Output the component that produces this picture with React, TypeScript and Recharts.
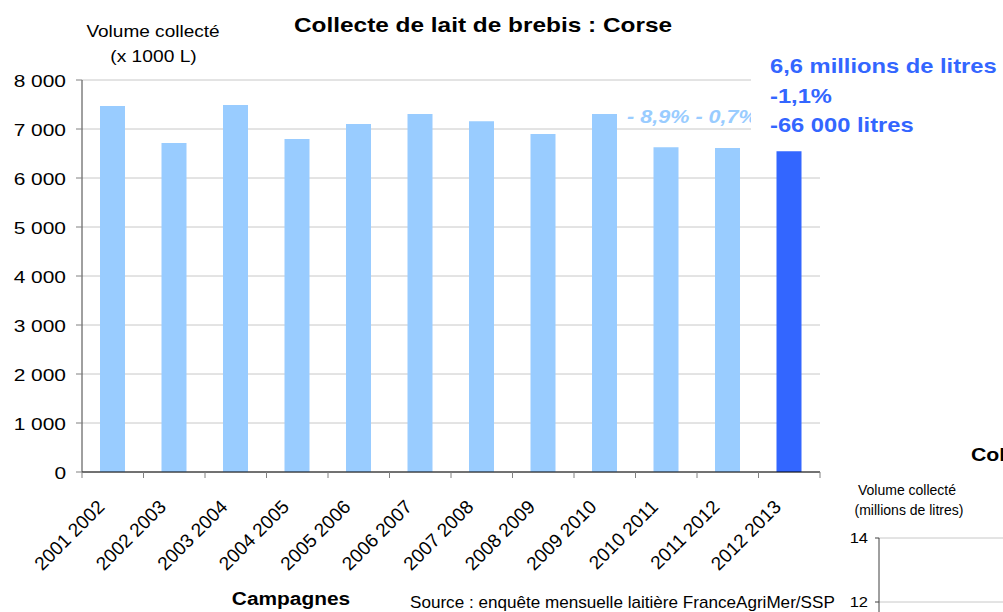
import { BarChart, Bar, Cell, XAxis, YAxis, CartesianGrid } from "recharts";

const campagnes = [
  "2001 2002", "2002 2003", "2003 2004", "2004 2005", "2005 2006", "2006 2007",
  "2007 2008", "2008 2009", "2009 2010", "2010 2011", "2011 2012", "2012 2013",
];
const volumes = [7470, 6715, 7490, 6795, 7100, 7305, 7160, 6900, 7305, 6630, 6610, 6545];
const yTicks = [0, 1000, 2000, 3000, 4000, 5000, 6000, 7000, 8000];
const annotation = ["6,6 millions de litres", "-1,1%", "-66 000 litres"];
const variations = "- 8,9% - 0,7%";
// second chart is cut off by the page: only the top of its axis shows
const secondTicks = [12, 14];

const data = campagnes.map((campagne, i) => ({ campagne, volume: volumes[i] }));
const secondData = campagnes.map((campagne) => ({ campagne }));

const FONT = '"Liberation Sans", Arial, sans-serif';
const W = 1003;
const H = 612;
const M_RIGHT = 183;
const Y_AXIS_W = 82;
const X_AXIS_H = 140;
const PLOT_BOTTOM = H - X_AXIS_H;
const BAND = (W - M_RIGHT - Y_AXIS_W) / campagnes.length;

const fmt = (v: number) => String(v).replace(/\B(?=(\d{3})+(?!\d))/g, " ");

const YTick = ({ x, y, payload }: any) => (
  <text
    transform={`translate(${x},${y}) scale(1.23,1)`}
    textAnchor="end"
    dy={7}
    fontSize={17}
    fontFamily={FONT}
    fill="#000"
  >
    {fmt(payload.value)}
  </text>
);

const XTick = ({ x, payload, index }: any) => {
  const half = BAND / 2;
  return (
    <g>
      <line x1={x - half} x2={x - half} y1={PLOT_BOTTOM} y2={PLOT_BOTTOM + 6} stroke="#808080" />
      {index === campagnes.length - 1 && (
        <line x1={x + half} x2={x + half} y1={PLOT_BOTTOM} y2={PLOT_BOTTOM + 6} stroke="#808080" />
      )}
      <text
        transform={`translate(${x - 7},${PLOT_BOTTOM + 36}) rotate(-45)`}
        textAnchor="end"
        fontSize={19}
        fontFamily={FONT}
        fill="#000"
      >
        {payload.value}
      </text>
    </g>
  );
};

const SmallTick = ({ x, y, payload }: any) => (
  <text
    transform={`translate(${x},${y}) scale(1.1,1)`}
    dy={5}
    textAnchor="end"
    fontSize={15}
    fontFamily={FONT}
    fill="#000"
  >
    {payload.value}
  </text>
);

const T = ({ x, y, sx = 1, anchor = "start", size, bold, italic, fill = "#000", children }: any) => (
  <text
    transform={`translate(${x},${y}) scale(${sx},1)`}
    textAnchor={anchor}
    fontSize={size}
    fontWeight={bold ? "bold" : "normal"}
    fontStyle={italic ? "italic" : "normal"}
    fontFamily={FONT}
    fill={fill}
  >
    {children}
  </text>
);

export default function App() {
  return (
    <div style={{ position: "absolute", left: 0, top: 0, width: W, height: H, overflow: "hidden", background: "#fff" }}>
      <div style={{ position: "absolute", left: 0, top: 0 }}>
        <BarChart width={W} height={H} data={data} margin={{ top: 80, right: M_RIGHT, bottom: 0, left: 0 }} barSize={25}>
          <CartesianGrid vertical={false} stroke="#c8c8c8" />
          <XAxis
            dataKey="campagne"
            height={X_AXIS_H}
            interval={0}
            tickLine={false}
            axisLine={{ stroke: "#000" }}
            tick={<XTick />}
          />
          <YAxis
            width={Y_AXIS_W}
            domain={[0, 8000]}
            ticks={yTicks}
            interval={0}
            tickSize={6}
            tickMargin={10}
            tickLine={{ stroke: "#808080" }}
            axisLine={{ stroke: "#404040" }}
            tick={<YTick />}
          />
          <Bar dataKey="volume" isAnimationActive={false}>
            {data.map((d, i) => (
              <Cell key={d.campagne} fill={i === data.length - 1 ? "#3366FF" : "#99CCFF"} />
            ))}
          </Bar>
        </BarChart>
      </div>

      <div style={{ position: "absolute", left: 820, top: 530 }}>
        <BarChart width={200} height={456} data={secondData} margin={{ top: 8, right: 0, bottom: 0, left: 0 }}>
          <CartesianGrid vertical={false} stroke="#c8c8c8" />
          <XAxis dataKey="campagne" hide />
          <YAxis
            type="number"
            width={59}
            domain={[0, 14]}
            ticks={secondTicks}
            interval={0}
            allowDataOverflow
            tickSize={4}
            tickMargin={7}
            tickLine={{ stroke: "#404040" }}
            axisLine={{ stroke: "#404040" }}
            tick={<SmallTick />}
          />
          <Bar dataKey="valeur" fill="#99CCFF" isAnimationActive={false} />
        </BarChart>
      </div>

      <svg width={W} height={H} style={{ position: "absolute", left: 0, top: 0, pointerEvents: "none" }}>
        <T x={483} y={31.5} sx={1.22} anchor="middle" size={20} bold>
          Collecte de lait de brebis : Corse
        </T>
        <T x={153} y={37.3} sx={1.12} anchor="middle" size={17}>Volume collecté</T>
        <T x={153.5} y={61.7} sx={1.13} anchor="middle" size={17}>(x 1000 L)</T>
        <T x={627} y={123} sx={1.2} size={18} bold italic fill="#99CCFF">{variations}</T>
        <rect x={751} y={48} width={252} height={95} fill="#fff" />
        {annotation.map((line, i) => (
          <T key={line} x={770} y={[73.3, 103.3, 131.7][i]} sx={1.13} size={21} bold fill="#3366FF">
            {line}
          </T>
        ))}
        <T x={291} y={605} sx={1.16} anchor="middle" size={18} bold>Campagnes</T>
        <T x={410} y={608} sx={1.07} size={16}>
          Source : enquête mensuelle laitière FranceAgriMer/SSP
        </T>
        <T x={971} y={461} sx={1.12} size={19} bold>Collecte de lait de brebis</T>
        <T x={907} y={495} anchor="middle" size={14}>Volume collecté</T>
        <T x={909} y={515} anchor="middle" size={14}>(millions de litres)</T>
      </svg>
    </div>
  );
}
